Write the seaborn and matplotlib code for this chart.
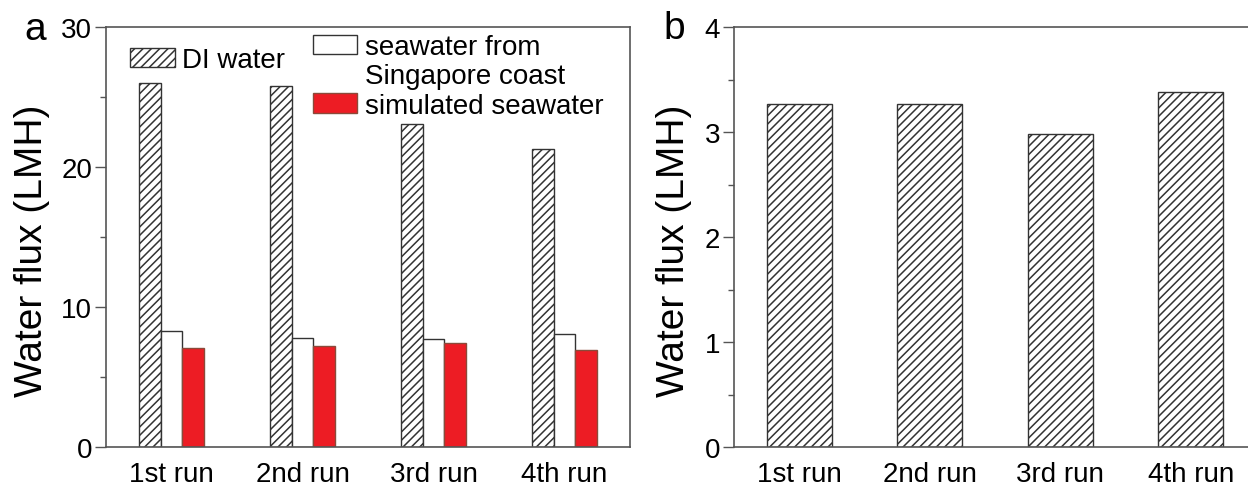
import matplotlib
matplotlib.use("Agg")
import matplotlib.pyplot as plt
from matplotlib.patches import Patch
from matplotlib.ticker import MultipleLocator
import seaborn as sns
import pandas as pd

# Flux measurements for four repeated filtration runs
runs = ["1st run", "2nd run", "3rd run", "4th run"]
feeds = ["DI water", "seawater from\nSingapore coast", "simulated seawater"]
di_water = [26.0, 25.8, 23.1, 21.3]
seawater_coast = [8.3, 7.8, 7.7, 8.1]
simulated_seawater = [7.1, 7.2, 7.4, 6.9]
panel_b_flux = [3.27, 3.27, 2.98, 3.38]

sns.set_theme(style="ticks")
plt.rcParams["font.family"] = ["Liberation Sans", "DejaVu Sans"]
plt.rcParams["hatch.linewidth"] = 1.1
plt.rcParams["text.color"] = "black"
plt.rcParams["axes.labelcolor"] = "black"

RED = "#ED1C24"
EDGE = "#333333"
RED_EDGE = "#8a4a3a"
SPINE = "#555555"

df_a = pd.DataFrame({
    "run": runs * 3,
    "feed": [feeds[0]] * 4 + [feeds[1]] * 4 + [feeds[2]] * 4,
    "flux": di_water + seawater_coast + simulated_seawater,
})
df_b = pd.DataFrame({"run": runs, "flux": panel_b_flux})

fig = plt.figure(figsize=(12.48, 4.89), dpi=100)
ax_a = fig.add_axes([106 / 1248, 41 / 489, 524 / 1248, 420 / 489])
ax_b = fig.add_axes([734 / 1248, 41 / 489, 522 / 1248, 420 / 489])

palette = {feeds[0]: "white", feeds[1]: "white", feeds[2]: RED}
sns.barplot(data=df_a, x="run", y="flux", hue="feed", hue_order=feeds,
            palette=palette, width=0.5, gap=0, saturation=1, legend=False,
            edgecolor=EDGE, linewidth=1.0, ax=ax_a)
for bar in ax_a.containers[0]:
    bar.set_hatch("////")
for bar in ax_a.containers[2]:
    bar.set_edgecolor(RED_EDGE)

sns.barplot(data=df_b, x="run", y="flux", color="white", width=0.5,
            saturation=1, edgecolor=EDGE, linewidth=1.0, hatch="////", ax=ax_b)

tick_fs = 20
for ax, ymax, major, minor in [(ax_a, 30, 10, 5), (ax_b, 4, 1, 0.5)]:
    ax.set_xlim(-0.5, 3.5)
    ax.set_ylim(0, ymax)
    ax.yaxis.set_major_locator(MultipleLocator(major))
    ax.yaxis.set_minor_locator(MultipleLocator(minor))
    ax.tick_params(axis="y", which="major", direction="out", length=8,
                   width=1, color=SPINE, labelcolor="black",
                   labelsize=tick_fs, pad=2)
    ax.tick_params(axis="y", which="minor", direction="out", length=4,
                   width=1, color=SPINE)
    ax.tick_params(axis="x", length=0, labelsize=tick_fs, labelcolor="black",
                   pad=10)
    ax.set_xlabel("")
    ax.set_ylabel("Water flux (LMH)", fontsize=28)
    for sp in ax.spines.values():
        sp.set_color(SPINE)
        sp.set_linewidth(1.2)

ax_b.spines["right"].set_visible(False)
ax_a.yaxis.set_label_coords(-0.107, 0.47)
ax_b.yaxis.set_label_coords(-0.08, 0.47)

# Legend: hatched DI water on its own, the two seawater feeds stacked beside it
leg_fs = 20
h_di = Patch(facecolor="white", edgecolor=EDGE, hatch="////", linewidth=1.0)
leg1 = ax_a.legend([h_di], [feeds[0]], loc="upper left",
                   bbox_to_anchor=(0.046, 0.952), frameon=False,
                   fontsize=leg_fs, handlelength=1.6, handleheight=0.72,
                   handletextpad=0.28, borderaxespad=0, borderpad=0)
ax_a.add_artist(leg1)
h_sea = Patch(facecolor="white", edgecolor=EDGE, linewidth=1.0)
h_blank = Patch(facecolor="none", edgecolor="none")
h_sim = Patch(facecolor=RED, edgecolor=RED_EDGE, linewidth=1.0)
ax_a.legend([h_sea, h_blank, h_sim],
            ["seawater from", "Singapore coast", "simulated seawater"],
            loc="upper left", bbox_to_anchor=(0.395, 0.983), frameon=False,
            fontsize=leg_fs, handlelength=1.6, handleheight=0.72,
            handletextpad=0.28, labelspacing=0.12, borderaxespad=0,
            borderpad=0)

fig.text(35 / 1248, 1 - 30 / 489, "a", fontsize=28, ha="center", va="center")
fig.text(674 / 1248, 1 - 29 / 489, "b", fontsize=28, ha="center", va="center")

fig.savefig("out.png", dpi=100)
